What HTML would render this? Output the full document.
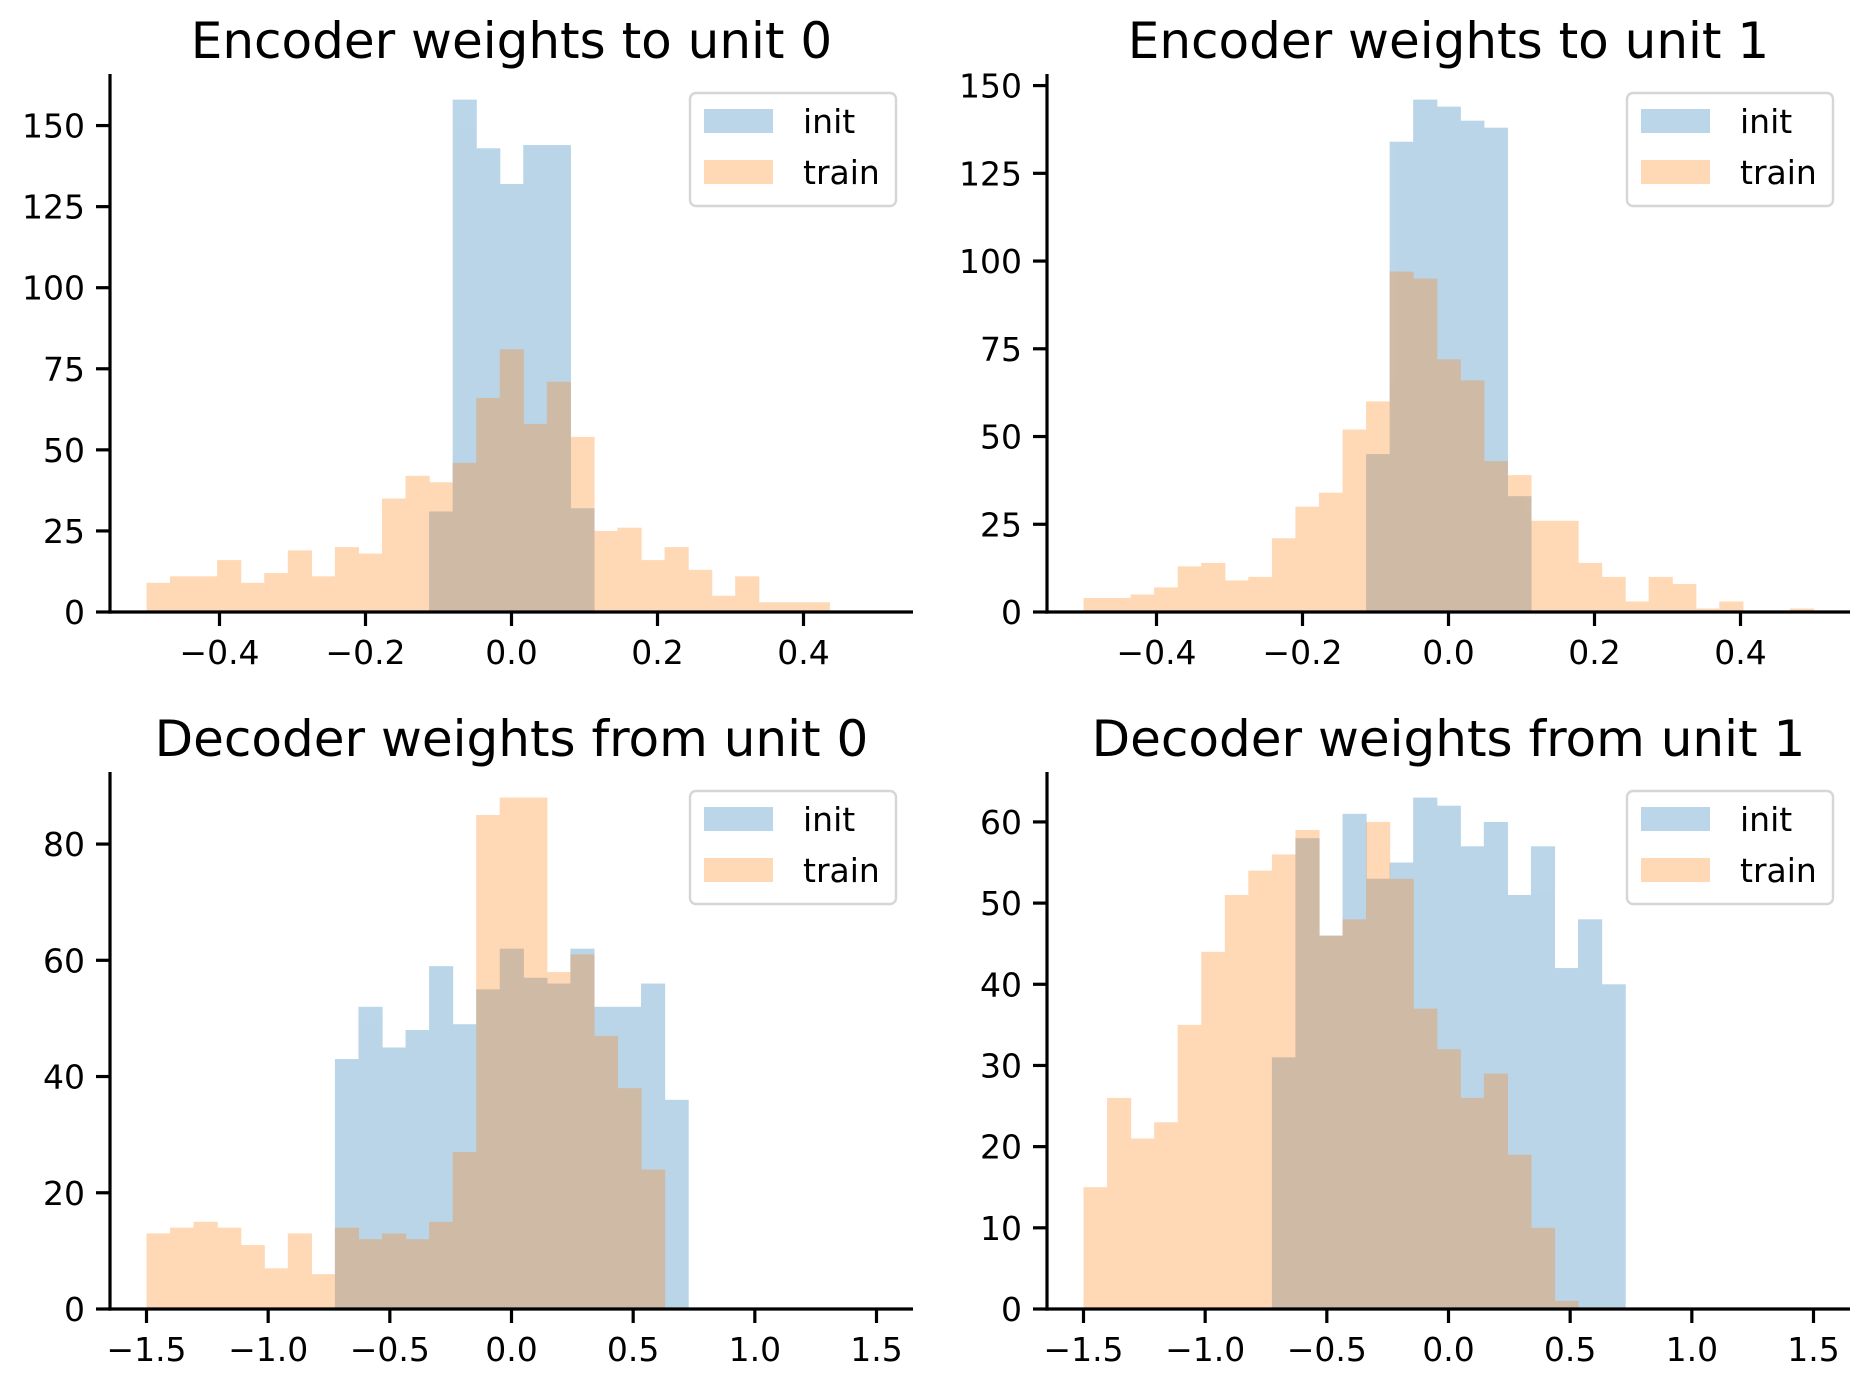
<!DOCTYPE html>
<html><head><meta charset="utf-8">
<style>
html,body{margin:0;padding:0;background:#fff;}
svg{display:block;font-family:"DejaVu Sans","Liberation Sans",sans-serif;}
</style></head>
<body>
<svg id="fig" width="1870" height="1388" viewBox="0 0 1870 1388" xmlns="http://www.w3.org/2000/svg"></svg>
<script>
// Encoder unit 0 (31 bins from -0.5 to 0.5)
const enc0Init = [0,0,0,0,0,0,0,0,0,0,0,0,31,158,143,132,144,144,32,0,0,0,0,0,0,0,0,0,0,0,0];
const enc0Train = [9,11,11,16,9,12,19,11,20,18,35,42,40,46,66,81,58,71,54,25,26,16,20,13,5,11,3,3,3,0,0];
// Encoder unit 1
const enc1Init = [0,0,0,0,0,0,0,0,0,0,0,0,45,134,146,144,140,138,33,0,0,0,0,0,0,0,0,0,0,0,0];
const enc1Train = [4,4,5,7,13,14,9,10,21,30,34,52,60,97,95,72,66,43,39,26,26,14,10,3,10,8,1,3,0,0,1];
// Decoder unit 0 (31 bins from -1.5 to 1.5)
const dec0Init = [0,0,0,0,0,0,0,0,43,52,45,48,59,49,55,62,57,56,62,52,52,56,36,0,0,0,0,0,0,0,0];
const dec0Train = [13,14,15,14,11,7,13,6,14,12,13,12,15,27,85,88,88,58,61,47,38,24,0,0,0,0,0,0,0,0,0];
// Decoder unit 1
const dec1Init = [0,0,0,0,0,0,0,0,31,58,46,61,53,55,63,62,57,60,51,57,42,48,40,0,0,0,0,0,0,0,0];
const dec1Train = [15,26,21,23,35,44,51,54,56,59,46,48,60,53,37,32,26,29,19,10,1,0,0,0,0,0,0,0,0,0,0];
// ticks
const encXTicks = [-0.4,-0.2,0.0,0.2,0.4];
const encXLabels = ["\u22120.4","\u22120.2","0.0","0.2","0.4"];
const decXTicks = [-1.5,-1.0,-0.5,0.0,0.5,1.0,1.5];
const decXLabels = ["\u22121.5","\u22121.0","\u22120.5","0.0","0.5","1.0","1.5"];
const enc0YTicks = [0,25,50,75,100,125,150];
const enc1YTicks = [0,25,50,75,100,125,150];
const dec0YTicks = [0,20,40,60,80];
const dec1YTicks = [0,10,20,30,40,50,60];
const titles = ["Encoder weights to unit 0","Encoder weights to unit 1","Decoder weights from unit 0","Decoder weights from unit 1"];

const NS="http://www.w3.org/2000/svg";
const svg=document.getElementById('fig');
function mk(tag,attrs,parent){const e=document.createElementNS(NS,tag);for(const k in attrs)e.setAttribute(k,attrs[k]);(parent||svg).appendChild(e);return e;}

const panels=[
 {x0:110,x1:913,y0:74,y1:612,lo:-0.5,hi:0.5,init:enc0Init,train:enc0Train,xt:encXTicks,xl:encXLabels,yt:enc0YTicks,slug:'encoder-unit-0'},
 {x0:1047,x1:1850,y0:74,y1:612,lo:-0.5,hi:0.5,init:enc1Init,train:enc1Train,xt:encXTicks,xl:encXLabels,yt:enc1YTicks,slug:'encoder-unit-1'},
 {x0:110,x1:913,y0:772,y1:1309,lo:-1.5,hi:1.5,init:dec0Init,train:dec0Train,xt:decXTicks,xl:decXLabels,yt:dec0YTicks,slug:'decoder-unit-0'},
 {x0:1047,x1:1850,y0:772,y1:1309,lo:-1.5,hi:1.5,init:dec1Init,train:dec1Train,xt:decXTicks,xl:decXLabels,yt:dec1YTicks,slug:'decoder-unit-1'}
];

panels.forEach((p,pi)=>{
  const g=mk('g',{});
  
  
  const span=p.hi-p.lo, xmin=p.lo-0.05*span, xmax=p.hi+0.05*span;
  const ymax=Math.max(Math.max(...p.init),Math.max(...p.train))*1.05;
  const X=v=>p.x0+(v-xmin)/(xmax-xmin)*(p.x1-p.x0);
  const Y=v=>p.y1-v/ymax*(p.y1-p.y0);
  const n=p.init.length, w=span/n;
  [['init','#1f77b4',p.init],['train','#ff7f0e',p.train]].forEach(([nm,col,arr])=>{
    const sg=mk('g',{opacity:0.3},g);
    
    
    arr.forEach((v,k)=>{
      if(v<=0)return;
      const a=X(p.lo+k*w), b=X(p.lo+(k+1)*w);
      const r=mk('rect',{x:a,y:Y(v),width:b-a+0.6,height:Y(0)-Y(v),fill:col},sg);
      
      
    });
  });
  // spines
  const ls=mk('line',{x1:p.x0,y1:p.y0,x2:p.x0,y2:p.y1+1.6,stroke:'#000','stroke-width':3.2},g);
  
  
  const bs=mk('line',{x1:p.x0-1.6,y1:p.y1,x2:p.x1,y2:p.y1,stroke:'#000','stroke-width':3.2},g);
  
  
  p.xt.forEach((t,i)=>{
    const x=X(t);
    mk('line',{x1:x,y1:p.y1,x2:x,y2:p.y1+14,stroke:'#000','stroke-width':3.2},g);
    const tx=mk('text',{x:x,y:p.y1+52,'font-size':33,'text-anchor':'middle',fill:'#000'},g);
    tx.textContent=p.xl[i];
    
    
  });
  p.yt.forEach(t=>{
    const y=Y(t);
    mk('line',{x1:p.x0-14,y1:y,x2:p.x0,y2:y,stroke:'#000','stroke-width':3.2},g);
    const ty=mk('text',{x:p.x0-25,y:y+12,'font-size':33,'text-anchor':'end',fill:'#000'},g);
    ty.textContent=String(t);
    
    
  });
  const tt=mk('text',{x:(p.x0+p.x1)/2,y:p.y0-16,'font-size':50,'text-anchor':'middle',fill:'#000'},g);
  tt.textContent=titles[pi];
  
  
  // legend
  const lx=p.x1-223, ly=p.y0+19;
  const lg=mk('g',{},g);
  
  
  mk('rect',{x:lx,y:ly,width:206,height:113,rx:6,fill:'#fff','fill-opacity':0.8,stroke:'#d6d6d6','stroke-width':2.4},lg);
  [['init','#1f77b4',16],['train','#ff7f0e',67]].forEach(([nm,col,dy])=>{
    const sw=mk('rect',{x:lx+14,y:ly+dy,width:69,height:24,fill:col,'fill-opacity':0.3},lg);
    
    
    const lt=mk('text',{x:lx+113,y:ly+dy+24,'font-size':33,fill:'#000'},lg);
    lt.textContent=nm;
    
    
  });
});
</script>
</body></html>
